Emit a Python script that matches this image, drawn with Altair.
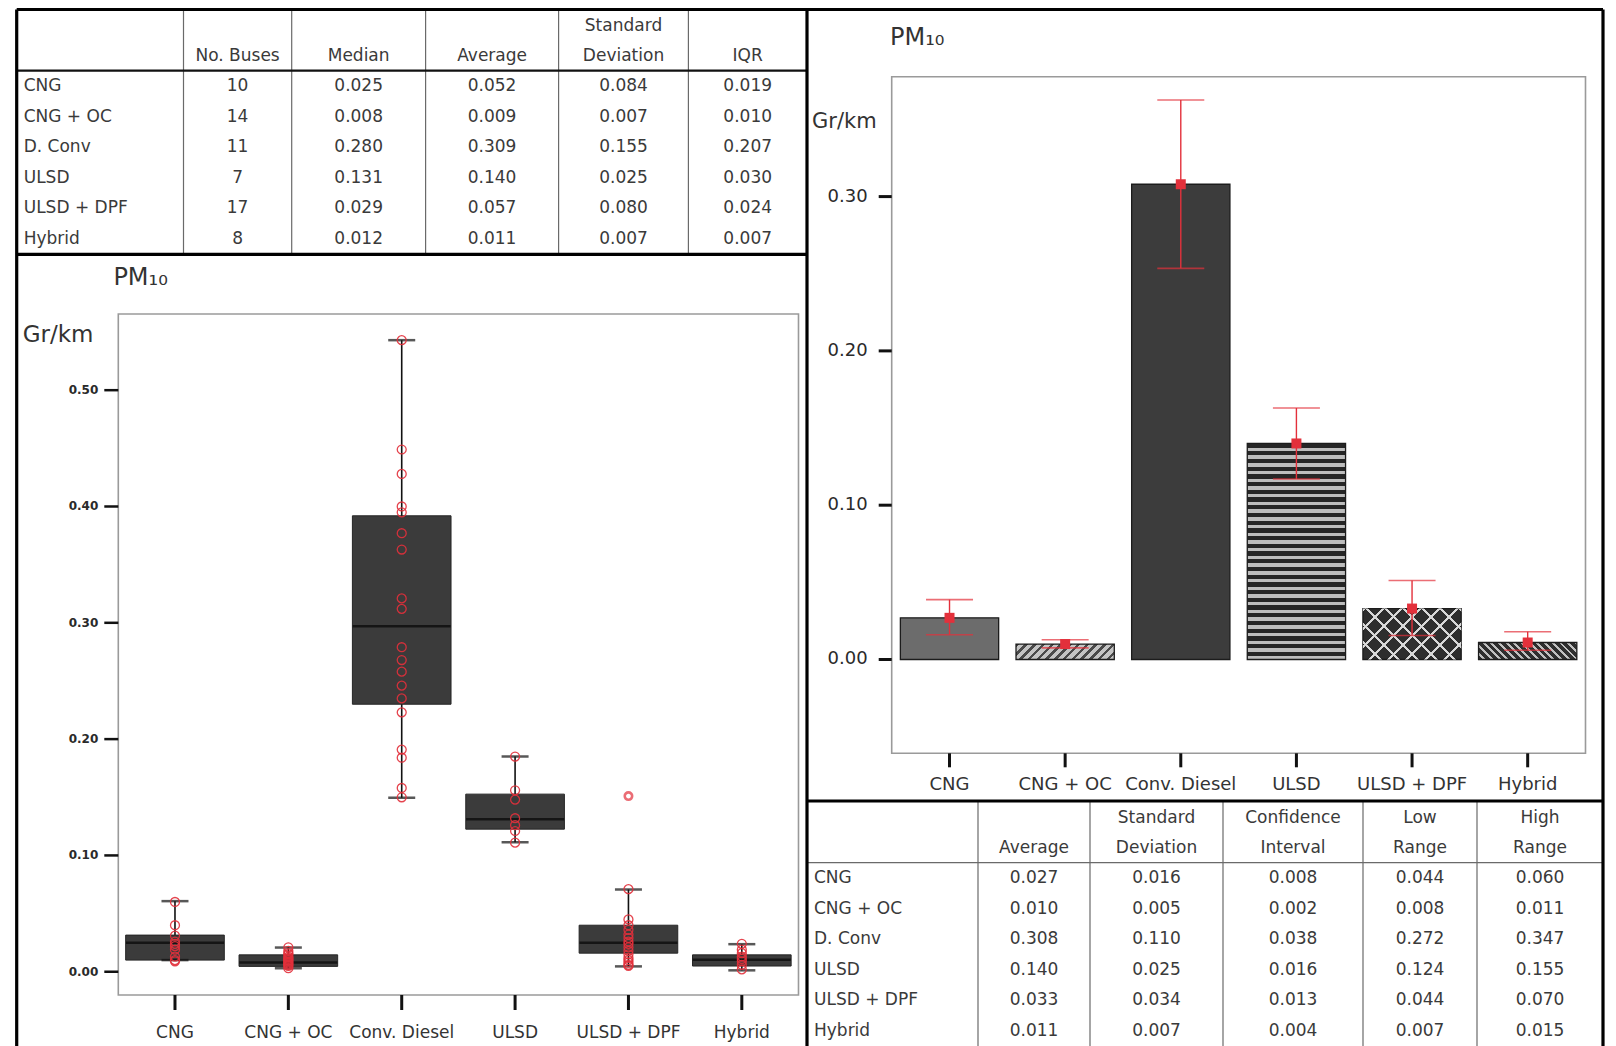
import math
import altair as alt
import pandas as pd

# ---------------------------------------------------------------- data
CATS = ["CNG", "CNG + OC", "Conv. Diesel", "ULSD", "ULSD + DPF", "Hybrid"]
ROW_LABELS = ["CNG", "CNG + OC", "D. Conv", "ULSD", "ULSD + DPF", "Hybrid"]

# table 1 (boxplot statistics)
N_BUSES = ["10", "14", "11", "7", "17", "8"]
T1_MEDIAN = ["0.025", "0.008", "0.280", "0.131", "0.029", "0.012"]
T1_AVERAGE = ["0.052", "0.009", "0.309", "0.140", "0.057", "0.011"]
T1_STDEV = ["0.084", "0.007", "0.155", "0.025", "0.080", "0.007"]
T1_IQR = ["0.019", "0.010", "0.207", "0.030", "0.024", "0.007"]

# table 2 (bar chart statistics)
T2_AVERAGE = ["0.027", "0.010", "0.308", "0.140", "0.033", "0.011"]
T2_STDEV = ["0.016", "0.005", "0.110", "0.025", "0.034", "0.007"]
T2_CI = ["0.008", "0.002", "0.038", "0.016", "0.013", "0.004"]
T2_LOW = ["0.044", "0.008", "0.272", "0.124", "0.044", "0.007"]
T2_HIGH = ["0.060", "0.011", "0.347", "0.155", "0.070", "0.015"]

# boxplot summary
BOX_Q1 = [0.010, 0.0046, 0.230, 0.1226, 0.016, 0.0049]
BOX_Q3 = [0.0315, 0.0145, 0.392, 0.1527, 0.040, 0.0145]
BOX_MED = [0.025, 0.008, 0.297, 0.131, 0.025, 0.0103]
BOX_LO = [0.010, 0.003, 0.1496, 0.1114, 0.0046, 0.0012]
BOX_HI = [0.0607, 0.0208, 0.543, 0.185, 0.0707, 0.0237]
BOX_YTICKS = [0.0, 0.1, 0.2, 0.3, 0.4, 0.5]

# individual buses (red circles)
PTS_CNG = [0.060, 0.040, 0.031, 0.026, 0.024, 0.022, 0.019, 0.013, 0.010, 0.009]
PTS_CNG_OC = [0.021, 0.018, 0.016, 0.015, 0.013, 0.012, 0.011, 0.010, 0.009,
              0.008, 0.007, 0.006, 0.005, 0.003]
PTS_CONV = [0.543, 0.449, 0.428, 0.400, 0.395, 0.377, 0.363, 0.321, 0.312, 0.279,
            0.268, 0.258, 0.246, 0.235, 0.223, 0.191, 0.184, 0.158, 0.150]
PTS_ULSD = [0.185, 0.156, 0.148, 0.132, 0.126, 0.121, 0.111]
PTS_DPF = [0.071, 0.045, 0.040, 0.036, 0.032, 0.029, 0.026, 0.024, 0.021, 0.018,
           0.015, 0.012, 0.010, 0.008, 0.006, 0.005]
PTS_HYBRID = [0.024, 0.019, 0.016, 0.013, 0.011, 0.009, 0.006, 0.002]
OUTLIER_CAT = ["ULSD + DPF"]
OUTLIER_VAL = [0.151]

# bar chart (means with error bars)
BAR_MEAN = [0.027, 0.010, 0.308, 0.140, 0.033, 0.011]
ERR_LO = [0.016, 0.0075, 0.2535, 0.117, 0.0155, 0.006]
ERR_HI = [0.0388, 0.0128, 0.3626, 0.163, 0.0512, 0.018]
BAR_YTICKS = [0.0, 0.1, 0.2, 0.3]

# ---------------------------------------------------------------- layout / style
W, H = 1600, 1038
FONT = "DejaVu Sans"
TXT = "#3a3a3a"
RED = "#e3303b"

OX0, OX1, OY0 = 8.7, 1595.0, 1.5          # outer border
DIV_X = 799.0                             # vertical divider
T1_EDGES = [OX0, 175.5, 283.7, 417.6, 550.6, 680.4, DIV_X]
T1_HEAD, T1_BOTTOM = 62.7, 246.3
T2_EDGES = [DIV_X, 970.0, 1082.0, 1215.0, 1355.0, 1469.0, OX1]
T2_TOP, T2_HEAD = 793.0, 854.7
ROW_H = 30.6

BOX_X = [110.3, 790.5]
BOX_Y = [987.0, 306.0]
BOX_DOM = [-0.02, 0.5655]
BAR_X = [883.7, 1577.5]
BAR_Y = [745.3, 68.7]
BAR_DOM = [-0.0608, 0.3777]
BAR_BAND = 0.85

sheet_x = alt.Scale(domain=[0, W], range=[0, W], nice=False, zero=False)
sheet_y = alt.Scale(domain=[0, H], range=[0, H], nice=False, zero=False)


def sx(f):
    return alt.X(f, type="quantitative", scale=sheet_x, axis=None)


def sy(f):
    return alt.Y(f, type="quantitative", scale=sheet_y, axis=None)


# ---------------------------------------------------------------- sheet: tables, borders, titles
thick = pd.DataFrame([
    dict(x=OX0, x2=OX1, y=OY0, y2=OY0),
    dict(x=OX0, x2=OX0, y=OY0, y2=H),
    dict(x=OX1, x2=OX1, y=OY0, y2=H),
    dict(x=DIV_X, x2=DIV_X, y=OY0, y2=H),
    dict(x=OX0, x2=DIV_X, y=T1_BOTTOM, y2=T1_BOTTOM),
    dict(x=DIV_X, x2=OX1, y=T2_TOP, y2=T2_TOP),
])
medium = pd.DataFrame([dict(x=OX0, x2=DIV_X, y=T1_HEAD, y2=T1_HEAD)])
thin_rows = [dict(x=e, x2=e, y=OY0, y2=T1_BOTTOM) for e in T1_EDGES[1:-1]]
thin_rows += [dict(x=e, x2=e, y=T2_TOP, y2=H) for e in T2_EDGES[1:-1]]
thin_rows += [dict(x=DIV_X, x2=OX1, y=T2_HEAD, y2=T2_HEAD)]
thin = pd.DataFrame(thin_rows)
frames = pd.DataFrame([
    dict(x=BOX_X[0], x2=BOX_X[1], y=BOX_Y[1], y2=BOX_Y[0]),
    dict(x=BAR_X[0], x2=BAR_X[1], y=BAR_Y[1], y2=BAR_Y[0]),
])
titles = pd.DataFrame([
    dict(x=105.4, y=270.0, t="PM₁₀", s=24),
    dict(x=14.7, y=327.0, t="Gr/km", s=23),
    dict(x=882.0, y=30.0, t="PM₁₀", s=24),
    dict(x=804.0, y=114.0, t="Gr/km", s=21),
])


def rules(df, width, color):
    return alt.Chart(df).mark_rule(strokeWidth=width, color=color).encode(
        x=sx("x"), x2="x2", y=sy("y"), y2="y2")


frame_layer = alt.Chart(frames).mark_rect(
    fillOpacity=0, stroke="#9a9a9a", strokeWidth=1.6).encode(
    x=sx("x"), x2="x2", y=sy("y"), y2="y2")

title_layer = alt.Chart(titles).mark_text(
    font=FONT, color="#333333", align="left", baseline="middle").encode(
    x=sx("x"), y=sy("y"), text="t:N",
    size=alt.Size("s:Q", scale=None, legend=None))


def table_texts(edges, head_bottom, columns):
    label_rows, cell_rows = [], []
    for i, lab in enumerate(ROW_LABELS):
        label_rows.append(dict(x=edges[0] + 7, y=head_bottom + (i + 0.5) * ROW_H, t=lab))
    for j, (h1, h2, vals) in enumerate(columns):
        cx = (edges[j + 1] + edges[j + 2]) / 2
        if h1:
            cell_rows.append(dict(x=cx, y=head_bottom - 45, t=h1))
        cell_rows.append(dict(x=cx, y=head_bottom - 14.5, t=h2))
        for i, v in enumerate(vals):
            cell_rows.append(dict(x=cx, y=head_bottom + (i + 0.5) * ROW_H, t=v))
    labels = alt.Chart(pd.DataFrame(label_rows)).mark_text(
        font=FONT, fontSize=17, color=TXT, align="left", baseline="middle").encode(
        x=sx("x"), y=sy("y"), text="t:N")
    cells = alt.Chart(pd.DataFrame(cell_rows)).mark_text(
        font=FONT, fontSize=17, color=TXT, align="center", baseline="middle").encode(
        x=sx("x"), y=sy("y"), text="t:N")
    return [labels, cells]


T1_COLUMNS = [("", "No. Buses", N_BUSES), ("", "Median", T1_MEDIAN),
              ("", "Average", T1_AVERAGE), ("Standard", "Deviation", T1_STDEV),
              ("", "IQR", T1_IQR)]
T2_COLUMNS = [("", "Average", T2_AVERAGE), ("Standard", "Deviation", T2_STDEV),
              ("Confidence", "Interval", T2_CI), ("Low", "Range", T2_LOW),
              ("High", "Range", T2_HIGH)]

sheet = alt.layer(
    frame_layer,
    rules(thin, 1.2, "#6a6a6a"),
    rules(medium, 2.2, "#111111"),
    rules(thick, 3.2, "#000000"),
    title_layer,
    *table_texts(T1_EDGES, T1_HEAD, T1_COLUMNS),
    *table_texts(T2_EDGES, T2_HEAD, T2_COLUMNS),
)


# ---------------------------------------------------------------- axes drawn as marks
def y_axis(ticks, yscale, x_axis, tick_len, tick_w, lab_gap, size, weight):
    df = pd.DataFrame(dict(v=ticks, lab=[f"{t:.2f}" for t in ticks],
                           x0=[x_axis - tick_len] * len(ticks), x1=[x_axis] * len(ticks),
                           xl=[x_axis - tick_len - lab_gap] * len(ticks)))
    base = alt.Chart(df)
    yy = alt.Y("v:Q", scale=yscale, axis=None)
    return alt.layer(
        base.mark_rule(strokeWidth=tick_w, color="#111111").encode(
            x=sx("x0"), x2="x1", y=yy),
        base.mark_text(align="right", baseline="middle", font=FONT, fontSize=size,
                       fontWeight=weight, color="#2a2a2a").encode(
            x=sx("xl"), y=yy, text="lab:N"),
    )


def x_axis(xscale, y_axis_px, tick_len, tick_w, label_y, size):
    n = len(CATS)
    df = pd.DataFrame(dict(cat=CATS, y0=[y_axis_px] * n, y1=[y_axis_px + tick_len] * n,
                           yl=[label_y] * n))
    base = alt.Chart(df)
    xx = alt.X("cat:N", scale=xscale, axis=None)
    return alt.layer(
        base.mark_rule(strokeWidth=tick_w, color="#111111").encode(
            x=xx, y=sy("y0"), y2="y1"),
        base.mark_text(align="center", baseline="middle", font=FONT, fontSize=size,
                       color="#333333").encode(x=xx, y=sy("yl"), text="cat:N"),
    )


# ---------------------------------------------------------------- boxplot
box_df = pd.DataFrame(dict(cat=CATS, q1=BOX_Q1, q3=BOX_Q3, med=BOX_MED, lo=BOX_LO, hi=BOX_HI))
pts_rows = []
for c, vals in zip(CATS, [PTS_CNG, PTS_CNG_OC, PTS_CONV, PTS_ULSD, PTS_DPF, PTS_HYBRID]):
    pts_rows += [dict(cat=c, v=v) for v in vals]
pts_df = pd.DataFrame(pts_rows)
out_df = pd.DataFrame(dict(cat=OUTLIER_CAT, v=OUTLIER_VAL))

bxs = alt.Scale(domain=CATS, range=BOX_X, paddingInner=0, paddingOuter=0)
bys = alt.Scale(domain=BOX_DOM, range=BOX_Y, nice=False, zero=False)


def bx():
    return alt.X("cat:N", scale=bxs, axis=None)


def by(f):
    return alt.Y(f, type="quantitative", scale=bys, axis=None)


bbase = alt.Chart(box_df)
box_layer = alt.layer(
    bbase.mark_rule(color="#111111", strokeWidth=1.6).encode(x=bx(), y=by("lo"), y2="hi"),
    bbase.mark_bar(width=alt.RelativeBandSize(0.87), color="#3b3b3b",
                   stroke="#262626", strokeWidth=1).encode(x=bx(), y=by("q1"), y2="q3"),
    bbase.mark_tick(size=98, thickness=2.5, color="#050505").encode(x=bx(), y=by("med")),
    bbase.mark_tick(size=27, thickness=2.5, color="#111111").encode(x=bx(), y=by("lo")),
    bbase.mark_tick(size=27, thickness=2.5, color="#111111").encode(x=bx(), y=by("hi")),
    alt.Chart(pts_df).mark_point(shape="circle", filled=False, size=80, color=RED,
                                 strokeWidth=1.3, opacity=0.9).encode(x=bx(), y=by("v")),
    alt.Chart(out_df).mark_point(shape="circle", filled=False, size=55, color=RED,
                                 strokeWidth=2.6).encode(x=bx(), y=by("v")),
)
box_yaxis = y_axis(BOX_YTICKS, bys, BOX_X[0], 14, 2.5, 6, 12, "bold")
box_xaxis = x_axis(bxs, BOX_Y[0], 15, 3, 1025.0, 17)

# ---------------------------------------------------------------- bar chart
bar_df = pd.DataFrame(dict(cat=CATS, mean=BAR_MEAN, lo=ERR_LO, hi=ERR_HI,
                           base=[0.0] * len(CATS)))
bars_xs = alt.Scale(domain=CATS, range=BAR_X, paddingInner=0, paddingOuter=0)
bars_ys = alt.Scale(domain=BAR_DOM, range=BAR_Y, nice=False, zero=False)


def gx():
    return alt.X("cat:N", scale=bars_xs, axis=None)


def gy(f):
    return alt.Y(f, type="quantitative", scale=bars_ys, axis=None)


BAND_PX = (BAR_X[1] - BAR_X[0]) / len(CATS) * BAR_BAND
PX_PER_UNIT = (BAR_Y[0] - BAR_Y[1]) / (BAR_DOM[1] - BAR_DOM[0])


def grad(stops, x1, y1, x2, y2):
    return alt.LinearGradient(
        gradient="linear", x1=x1, y1=y1, x2=x2, y2=y2,
        stops=[alt.GradientStop(offset=round(min(max(o, 0), 1), 5), color=c) for o, c in stops])


def periodic_stops(n, c_line, c_bg, frac):
    st = []
    for i in range(n):
        a, b, c = i / n, (i + frac) / n, (i + 1) / n
        st += [(a, c_line), (b, c_line), (b, c_bg), (c, c_bg)]
    return st


def hstripes(h, period, c_line, c_bg, frac):
    n = max(1, round(h / period))
    return grad(periodic_stops(n, c_line, c_bg, frac), 0, 0, 0, 1)


def dstripes(w, h, period, c_line, c_bg, frac, mirror=False):
    r = h / w
    k = (1 + r) / (1 + r * r)
    n = max(1, round((w + h) / math.sqrt(2) / period))
    st = periodic_stops(n, c_line, c_bg, frac)
    if mirror:
        return grad(st, 1, 0, 1 - k, k * r)
    return grad(st, 0, 0, k, k * r)


def bar_h(c):
    return BAR_MEAN[CATS.index(c)] * PX_PER_UNIT


CLEAR = "rgba(0,0,0,0)"
bar_fills = {
    "CNG": ["#6c6c6c"],
    "CNG + OC": [dstripes(BAND_PX, bar_h("CNG + OC"), 6, "#4a4a4a", "#c4c4c4", 0.4)],
    "Conv. Diesel": ["#3c3c3c"],
    "ULSD": [hstripes(bar_h("ULSD"), 7.7, "#262626", "#bdbdbd", 0.55)],
    "ULSD + DPF": ["#2e2e2e",
                   dstripes(BAND_PX, bar_h("ULSD + DPF"), 13, "#d8d8d8", CLEAR, 0.16),
                   dstripes(BAND_PX, bar_h("ULSD + DPF"), 13, "#d8d8d8", CLEAR, 0.16, mirror=True)],
    "Hybrid": [dstripes(BAND_PX, bar_h("Hybrid"), 5.5, "#c0c0c0", "#2f2f2f", 0.38, mirror=True)],
}

gbase = alt.Chart(bar_df)
bar_layers = []
for c in CATS:
    for k_, f in enumerate(bar_fills[c]):
        bar_layers.append(
            gbase.transform_filter(alt.datum.cat == c)
            .mark_bar(width=alt.RelativeBandSize(BAR_BAND), fill=f,
                      stroke="#1c1c1c", strokeWidth=1.3 if k_ == 0 else 0)
            .encode(x=gx(), y=gy("mean"), y2="base"))

bar_layer = alt.layer(
    *bar_layers,
    gbase.mark_rule(color=RED, strokeWidth=1.4).encode(x=gx(), y=gy("lo"), y2="hi"),
    gbase.mark_tick(size=47, thickness=1.6, color=RED).encode(x=gx(), y=gy("lo")),
    gbase.mark_tick(size=47, thickness=1.6, color=RED).encode(x=gx(), y=gy("hi")),
    gbase.mark_square(size=100, color=RED, opacity=1).encode(x=gx(), y=gy("mean")),
)
bar_yaxis = y_axis(BAR_YTICKS, bars_ys, BAR_X[0], 13, 3, 11, 18, "normal")
bar_xaxis = x_axis(bars_xs, BAR_Y[0], 14, 3, 777.0, 18)

# ---------------------------------------------------------------- assemble
chart = (
    alt.layer(sheet, box_layer, box_yaxis, box_xaxis, bar_layer, bar_yaxis, bar_xaxis)
    .resolve_scale(x="independent", y="independent")
    .properties(width=W, height=H, padding=0,
                autosize=alt.AutoSizeParams(type="none"), background="white")
    .configure_view(stroke="transparent")
)

chart.save("out.html", embed_options={"renderer": "svg", "actions": False})
